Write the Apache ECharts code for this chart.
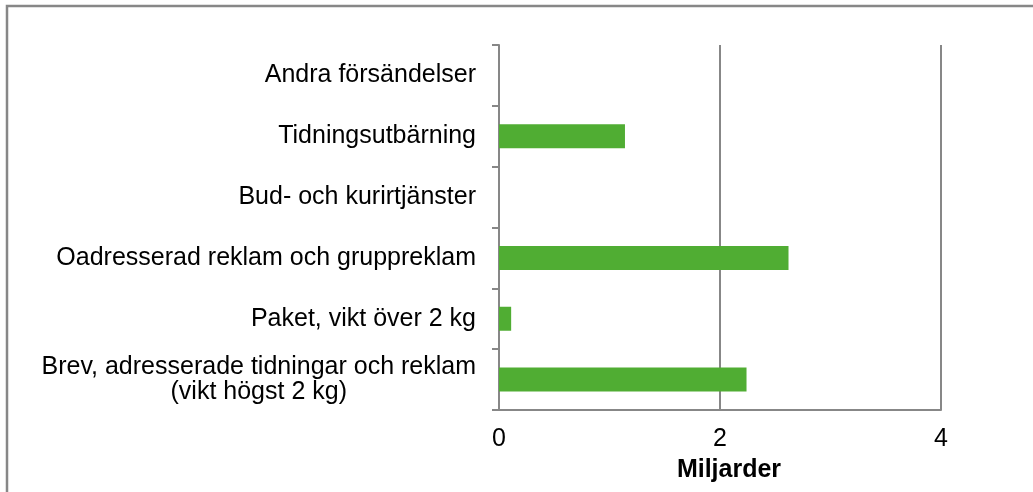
<!DOCTYPE html>
<html>
<head>
    <meta charset="utf-8">
    <title>ECharts</title>
    <script src="https://cdn.jsdelivr.net/npm/echarts@6/dist/echarts.min.js"></script>
</head>
<body style="margin:0">
    <div id="main" style="width: 1033px;height:492px;"></div>
    <script type="text/javascript">
        // kategorier nerifrån och upp
        var categories = [
            'Brev, adresserade tidningar och reklam\n(vikt högst 2 kg)',
            'Paket, vikt över 2 kg',
            'Oadresserad reklam och gruppreklam',
            'Bud- och kurirtjänster',
            'Tidningsutbärning',
            'Andra försändelser'
        ];
        var values = [2.24, 0.11, 2.62, 0, 1.14, 0];
        var xTicks = [0, 2, 4];

        var myChart = echarts.init(document.getElementById('main'));

        var option = {
            animation: false,
            backgroundColor: '#fff',
            textStyle: { fontFamily: 'Liberation Sans, Arial, sans-serif' },
            graphic: [{
                type: 'rect',
                shape: { x: 7, y: 6, width: 1100, height: 600 },
                style: { fill: 'none', stroke: '#878787', lineWidth: 2.5 },
                silent: true
            }],
            grid: { left: 499, right: 92, top: 45, bottom: 82, outerBoundsMode: 'none' },
            xAxis: {
                type: 'value',
                min: xTicks[0],
                max: xTicks[xTicks.length - 1],
                interval: 2,
                name: 'Miljarder',
                nameLocation: 'middle',
                nameGap: 48,
                nameTextStyle: { fontSize: 25, fontWeight: 'bold', color: '#000', padding: [0, 0, 0, 18] },
                axisLine: { show: true, lineStyle: { color: '#878787', width: 2 } },
                axisTick: { show: false },
                axisLabel: { fontSize: 25, color: '#000', margin: 17 },
                splitLine: { show: true, lineStyle: { color: '#878787', width: 2 } }
            },
            yAxis: {
                type: 'category',
                data: categories,
                axisLine: { show: true, lineStyle: { color: '#878787', width: 2 } },
                axisTick: { show: true, length: 7, lineStyle: { color: '#878787', width: 2 } },
                axisLabel: {
                    fontSize: 25,
                    color: '#000',
                    margin: 23,
                    lineHeight: 25,
                    formatter: function (v) {
                        return v.split('\n').map(function (s) { return '{c|' + s + '}'; }).join('\n');
                    },
                    rich: { c: { align: 'center', fontSize: 25, color: '#000', lineHeight: 25 } }
                }
            },
            series: [{
                type: 'bar',
                data: values,
                barWidth: 24,
                itemStyle: { color: '#50AD33' }
            }]
        };

        myChart.setOption(option);
    </script>
</body>
</html>
